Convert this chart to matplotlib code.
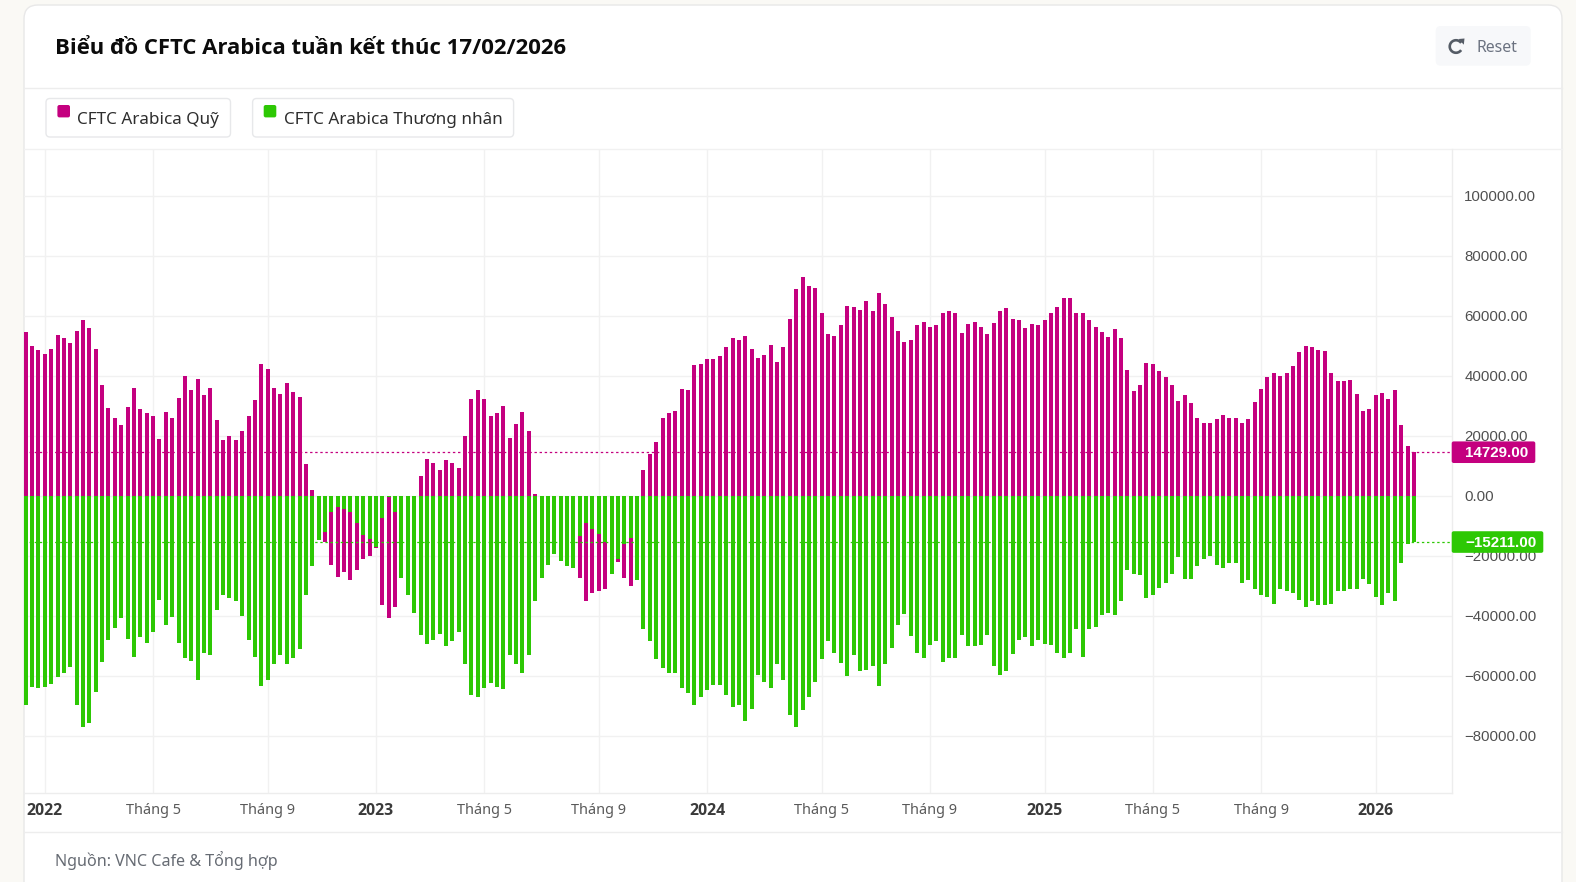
import matplotlib
matplotlib.use("Agg")
import matplotlib.pyplot as plt
from matplotlib.patches import FancyBboxPatch, Arc, Polygon
from matplotlib.transforms import ScaledTranslation
import numpy as np

plt.rcParams['lines.scale_dashes'] = False

fund = [
 54900,50200,48900,47600,49300,53700,52800,51000,55300,58800,
 56200,49300,37200,29400,26000,23800,29900,36000,29000,27700,
 26900,19100,28100,26000,32900,40200,35400,39000,33800,36000,
 25600,18700,20000,18700,21700,26900,32100,44100,42400,36300,
 34200,37700,34700,33300,10900,2200,-5000,-15300,-22900,-26800,
 -25300,-28000,-24600,-21000,-19800,-17300,-36200,-40600,-37000,-12000,
 -8000,-3000,6900,12600,11200,8700,12100,11200,9600,20300,
 32400,35400,32400,26800,27700,30200,19400,24200,28100,21700,
 900,-8000,-10000,-12000,-14000,-15000,-18000,-27100,-34900,-32300,
 -31400,-30700,-15000,-22000,-27100,-29800,-10000,8700,14300,18200,
 26000,27700,28600,35900,35400,43700,44100,45800,45800,46700,
 49700,52700,52200,53600,49200,46200,47100,50600,44900,49700,
 59200,69100,73000,70000,69600,61000,54000,53600,57000,63600,
 63100,62200,65200,61800,67900,64000,59700,55300,51400,52200,
 57000,58300,56600,57000,61000,61800,61000,54400,57400,58300,
 56600,54000,57900,61800,62700,59200,58800,56200,57600,57100,
 58800,61000,63100,66100,66100,61300,61000,58800,56600,54900,
 53100,55700,52700,42300,35300,37100,44400,44000,41900,39700,
 37100,31900,33700,31000,26300,24600,24600,25900,27100,26300,
 26300,24600,25900,31400,35800,39700,41000,40100,41000,43600,
 48300,50100,49700,48900,48400,41000,38400,38400,38900,34100,
 28600,29000,33700,34600,32400,35400,23800,16900,14729]

trader = [
 -69600,-63400,-63900,-63400,-62600,-60300,-58700,-57000,-69400,-76800,
 -75400,-65100,-55200,-47900,-44000,-40600,-47400,-53600,-47000,-48800,
 -45300,-34400,-42700,-40100,-48800,-54000,-54800,-61300,-52200,-52700,
 -37900,-32800,-33700,-34900,-39700,-47900,-53600,-63100,-61300,-55700,
 -52700,-55700,-54000,-50900,-32800,-23200,-14600,-11900,-5100,-3400,
 -4200,-5100,-9000,-12900,-14200,-16800,-7300,-300,-5100,-27100,
 -32700,-38800,-46100,-49100,-47900,-45700,-50000,-48300,-45200,-55700,
 -66300,-66900,-63900,-62100,-63400,-64300,-53000,-56000,-58700,-53000,
 -34900,-27100,-22800,-19300,-21600,-23200,-23700,-13300,-9000,-10800,
 -12400,-15100,-25900,-20700,-15900,-13800,-28000,-44300,-48300,-54300,
 -57300,-59000,-59000,-63800,-65400,-69400,-66800,-64600,-62900,-62900,
 -66300,-70200,-69400,-75000,-70700,-59400,-62000,-63800,-56000,-61200,
 -72800,-76800,-71100,-66800,-61700,-54200,-48200,-52100,-55600,-59900,
 -53000,-58100,-57700,-56400,-63300,-56000,-50400,-42700,-39200,-46600,
 -52100,-53900,-49600,-48200,-55200,-53900,-53900,-46100,-50000,-50000,
 -49600,-46100,-56400,-59400,-58100,-52600,-47800,-47000,-50000,-47800,
 -49100,-49600,-52100,-53900,-52100,-44300,-53400,-44300,-43400,-39600,
 -38700,-39600,-34900,-24600,-25800,-26200,-34000,-32700,-30600,-28800,
 -25800,-20200,-27600,-27600,-23200,-20700,-19800,-22800,-23700,-22300,
 -22300,-28800,-28000,-31000,-32700,-33600,-35700,-31000,-31400,-32300,
 -34400,-36700,-34900,-36200,-36200,-35800,-31400,-31400,-31000,-31000,
 -27600,-29300,-33600,-36200,-32300,-34900,-22300,-15900,-15211]

tick_weeks = [3,20,38,55,72,90,107,125,142,160,177,194,212]
tick_names = ["2022","Tháng 5","Tháng 9","2023","Tháng 5","Tháng 9","2024",
              "Tháng 5","Tháng 9","2025","Tháng 5","Tháng 9","2026"]
y_ticks = [100000,80000,60000,40000,20000,0,-20000,-40000,-60000,-80000]

FUND_NAME = "CFTC Arabica Quỹ"
TRADER_NAME = "CFTC Arabica Thương nhân"
TITLE = "Biểu đồ CFTC Arabica tuần kết thúc 17/02/2026"
SOURCE = "Nguồn: VNC Cafe & Tổng hợp"

MAG = "#C4007F"
GRN = "#2DC804"
GRID = "#F1F1F1"
LINE = "#EDEDED"
W, H = 1576, 882
UI = "Noto Sans"
BOLD = "Open Sans"
NUM = "Liberation Sans"

fig = plt.figure(figsize=(W/100, H/100), dpi=100, facecolor="#FAF9F5")

# card behind everything
back = fig.add_axes([0, 0, 1, 1], zorder=0)
back.set_xlim(0, W); back.set_ylim(H, 0); back.axis("off")
back.add_patch(FancyBboxPatch((24, 5), 1538, 930, boxstyle="round,pad=0,rounding_size=14",
                              fc="white", ec="#E8E8E8", lw=1))
back.plot([24, 1562], [87.5, 87.5], color=LINE, lw=1)
back.plot([24, 1562], [148.5, 148.5], color=GRID, lw=1)
back.plot([24, 1562], [831.5, 831.5], color=LINE, lw=1)

# plot area
L, R, T, B = 24.0, 1451.7, 148.5, 792.7
ax = fig.add_axes([L/W, 1-B/H, (R-L)/W, (B-T)/H], zorder=1, facecolor="none")
x0, dx = 25.7, 6.368
zero_px, px_per_unit = 496.4, 3.0/1000
ax.set_xlim((L-x0)/dx, (R-x0)/dx)
ax.set_ylim((zero_px-B)/px_per_unit, (zero_px-T)/px_per_unit)

idx = np.arange(len(fund))
bw = 4.0/dx
ax.bar(idx, fund, width=bw, color=MAG, zorder=3, linewidth=0)
ax.bar(idx, trader, width=bw, color=GRN, zorder=4, linewidth=0)

on, off = 2.4*0.72, 2.7*0.72
ax.axhline(fund[-1], color=MAG, lw=0.9, dashes=(on, off), zorder=5)
ax.axhline(trader[-1], color=GRN, lw=0.9, dashes=(on, off), zorder=5)

ax.set_xticks(tick_weeks)
ax.set_xticklabels(tick_names)
ax.set_yticks(y_ticks)
ax.set_yticklabels([f"{v:.2f}".replace("-", "\u2212") for v in y_ticks])
ax.yaxis.tick_right()
ax.grid(True, color=GRID, lw=1, zorder=0)
ax.set_axisbelow(True)
ax.tick_params(axis="both", length=0)
ax.tick_params(axis="y", pad=9.0, labelsize=10.8, labelcolor="#505050")
ax.tick_params(axis="x", pad=7.5, labelsize=10.4, labelcolor="#5A5A5A")
up = ScaledTranslation(0, 1/100, fig.dpi_scale_trans)
for t in ax.get_yticklabels():
    t.set_fontfamily(NUM)
    t.set_transform(t.get_transform() + up)
for t, name in zip(ax.get_xticklabels(), tick_names):
    t.set_fontfamily(UI)
    if name.isdigit():
        t.set_fontfamily(BOLD)
        t.set_fontweight("bold"); t.set_color("#3A3A3A"); t.set_fontsize(11.4)
for s in ("top", "left"):
    ax.spines[s].set_visible(False)
for s in ("right", "bottom"):
    ax.spines[s].set_color(LINE); ax.spines[s].set_linewidth(1)

# overlay: header, legend, value tags
ov = fig.add_axes([0, 0, 1, 1], zorder=2, facecolor="none")
ov.set_xlim(0, W); ov.set_ylim(H, 0); ov.axis("off")

ov.text(55.5, 49, TITLE, family=BOLD, fontweight="bold", fontsize=15.95, color="#0B0B0B", va="center")

ov.add_patch(FancyBboxPatch((1435.7, 26), 95, 39.7, boxstyle="round,pad=0,rounding_size=5",
                            fc="#F7F8FA", ec="none"))
ov.add_patch(Arc((1456, 46.5), 12.5, 12.5, theta1=35, theta2=325, color="#555C66", lw=1.9))
ov.add_patch(Polygon([[1458.5, 39.0], [1464.5, 38.5], [1463.8, 44.7]], fc="#555C66", ec="none"))
ov.text(1476.5, 47.7, "Reset", family=UI, fontsize=11.4, color="#6B7280", va="center")

for (bx, bw_px, sx, col, name) in [(46, 184.5, 57.4, MAG, FUND_NAME), (252.6, 261, 263.7, GRN, TRADER_NAME)]:
    ov.add_patch(FancyBboxPatch((bx, 98.5), bw_px, 38.5, boxstyle="round,pad=0,rounding_size=4",
                                fc="white", ec="#E7E8EA", lw=1))
    ov.add_patch(FancyBboxPatch((sx, 105), 12.6, 12.4, boxstyle="round,pad=0,rounding_size=2",
                                fc=col, ec="none"))
    ov.text(sx+20.0, 120, name, family=UI, fontsize=12.3, color="#2E2E2E", va="center")

ov.text(55.5, 861, SOURCE, family=UI, fontsize=11.6, color="#666B73", va="center")

for v, col, right in [(fund[-1], MAG, 1535.3), (trader[-1], GRN, 1543.3)]:
    yp = zero_px - v*px_per_unit
    ov.add_patch(FancyBboxPatch((1451.7, yp-10.8), right-1451.7, 21.6,
                                boxstyle="round,pad=0,rounding_size=2", fc=col, ec="none"))
    ov.text(1465.3, yp+0.8, f"{v:.2f}".replace("-", "\u2212"), family=NUM, fontweight="bold",
            fontsize=10.9, color="white", va="center")

fig.savefig("out.png", dpi=100, facecolor=fig.get_facecolor())
